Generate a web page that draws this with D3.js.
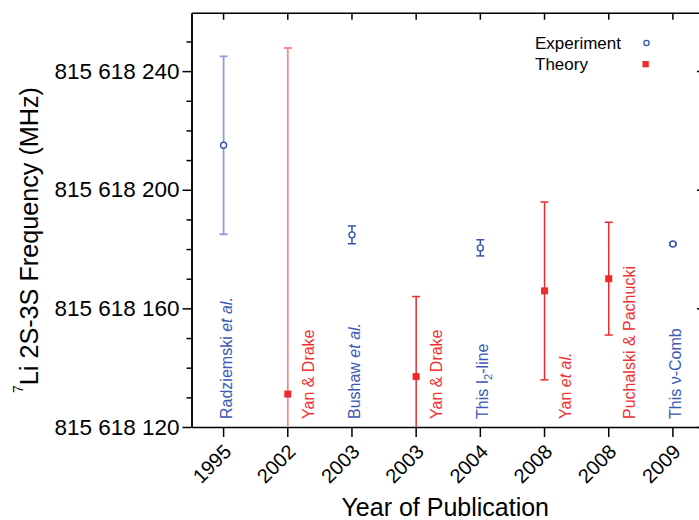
<!DOCTYPE html>
<html>
<head>
<meta charset="utf-8">
<script src="https://cdn.jsdelivr.net/npm/d3@7"></script>
<style>
  body { margin: 0; background: #fff; }
  svg { display: block; font-family: "Liberation Sans", Arial, sans-serif; }
</style>
</head>
<body>
<svg id="chart" width="699" height="520"></svg>
<script>
// ---- data ----
const years   = ["1995", "2002", "2003", "2003", "2004", "2008", "2008", "2009"];
const kinds   = ["Experiment", "Theory", "Experiment", "Theory", "Experiment", "Theory", "Theory", "Experiment"];
const sources = ["Radziemski et al.", "Yan & Drake", "Bushaw et al.", "Yan & Drake", "This I2-line", "Yan et al.", "Puchalski & Pachucki", "This ν-Comb"];
const freqs   = [815618215.0, 815618131.1, 815618184.8, 815618137.0, 815618180.4, 815618165.9, 815618170.0, 815618181.7];
const errs    = [30.0, 116.7, 3.0, 27.0, 2.7, 30.0, 19.0, 0.3];
const yTicksMajor = [815618120, 815618160, 815618200, 815618240];
const yTicksMinor = [815618130, 815618140, 815618150, 815618170, 815618180, 815618190, 815618210, 815618220, 815618230, 815618250];
const legendItems = ["Experiment", "Theory"];

// ---- style ----
const fadedIdx = [0, 1];
const col = { Experiment: "#3753b2", Theory: "#ee2a2a" };
const colFaded = { Experiment: "#8d9fd7", Theory: "#f68a8a" };
const labelCol = { Experiment: "#3d59b6", Theory: "#f03232" };

const svg = d3.select("#chart");
const pL = 191.5, pR = 705, pT = 12.7, pB = 427;

const idx = years.map((d, i) => i);
const x = d3.scaleBand().domain(idx).range([pL, pR]);
const y = d3.scaleLinear().domain([815618120, 815618259.7]).range([pB, pT]);
const cx = i => x(i) + x.bandwidth() / 2;

const loc = d3.formatLocale({ decimal: ".", thousands: " ", grouping: [3], currency: ["", ""] });
const fmt = loc.format(",d");

// clip
svg.append("clipPath").attr("id", "plotclip")
  .append("rect").attr("x", pL).attr("y", pT).attr("width", pR - pL).attr("height", pB - pT);

// ---- axes ----
const axisStyle = g => {
  g.selectAll("path.domain").attr("stroke", "#000").attr("stroke-width", 1.5);
  g.selectAll(".tick line").attr("stroke", "#000").attr("stroke-width", 1.5);
};

// left major
svg.append("g").attr("transform", `translate(${pL},0)`)
  .call(d3.axisLeft(y).tickValues(yTicksMajor).tickFormat(fmt).tickSize(9).tickSizeOuter(0).tickPadding(3))
  .call(axisStyle)
  .call(g => g.selectAll("text").attr("font-size", 22.5).attr("fill", "#000").attr("font-family", "Liberation Sans, Arial, sans-serif"));
// left minor
svg.append("g").attr("transform", `translate(${pL},0)`)
  .call(d3.axisLeft(y).tickValues(yTicksMinor).tickFormat("").tickSize(5).tickSizeOuter(0))
  .call(axisStyle);
// right (inward ticks)
svg.append("g").attr("transform", `translate(${pR},0)`)
  .call(d3.axisRight(y).tickValues(yTicksMajor).tickFormat("").tickSize(-8).tickSizeOuter(0))
  .call(axisStyle);
// bottom
svg.append("g").attr("transform", `translate(0,${pB})`)
  .call(d3.axisBottom(x).tickFormat(i => years[i]).tickSize(10).tickSizeOuter(0))
  .call(axisStyle)
  .call(g => g.selectAll("text")
    .attr("font-size", 20).attr("fill", "#000").attr("font-family", "Liberation Sans, Arial, sans-serif")
    .attr("x", 0).attr("y", 0).attr("dy", 0)
    .attr("text-anchor", "end")
    .attr("transform", "translate(9,26) rotate(-45)"));
// top (inward ticks)
svg.append("g").attr("transform", `translate(0,${pT})`)
  .call(d3.axisTop(x).tickFormat("").tickSize(-7).tickSizeOuter(0))
  .call(axisStyle);

// ---- axis titles ----
svg.append("text")
  .attr("x", (pL + pR) / 2 - 3).attr("y", 516)
  .attr("text-anchor", "middle").attr("font-size", 25).attr("fill", "#000")
  .text("Year of Publication");

const yt = svg.append("text")
  .attr("transform", "translate(38,393) rotate(-90)")
  .attr("font-size", 25.2).attr("fill", "#000");
yt.append("tspan").attr("font-size", 14).attr("dy", -15).text("7");
yt.append("tspan").attr("dy", 15).text("Li 2S-3S Frequency (MHz)");

// ---- error bars & markers ----
const plot = svg.append("g").attr("clip-path", "url(#plotclip)");
const capW = 8;
idx.forEach(i => {
  const k = kinds[i];
  const c = fadedIdx.includes(i) ? colFaded[k] : col[k];
  const g = plot.append("g").attr("stroke", c).attr("stroke-width", fadedIdx.includes(i) ? 1.8 : 1.5);
  const y0 = y(freqs[i] - errs[i]), y1 = y(freqs[i] + errs[i]);
  g.append("line").attr("x1", cx(i)).attr("x2", cx(i)).attr("y1", y0).attr("y2", y1);
  g.append("line").attr("x1", cx(i) - capW / 2).attr("x2", cx(i) + capW / 2).attr("y1", y0).attr("y2", y0);
  g.append("line").attr("x1", cx(i) - capW / 2).attr("x2", cx(i) + capW / 2).attr("y1", y1).attr("y2", y1);
});
idx.forEach(i => {
  if (kinds[i] === "Experiment") {
    plot.append("circle").attr("cx", cx(i)).attr("cy", y(freqs[i])).attr("r", 3)
      .attr("fill", "#fff").attr("stroke", col.Experiment).attr("stroke-width", 1.4);
  } else {
    plot.append("rect").attr("x", cx(i) - 3.5).attr("y", y(freqs[i]) - 3.5)
      .attr("width", 7).attr("height", 7).attr("fill", col.Theory);
  }
});

// ---- source labels ----
function addRich(t, s) {
  const m = s.match(/^(.*?)(et al\.)$/);
  if (m) {
    t.append("tspan").text(m[1]);
    t.append("tspan").attr("font-style", "italic").text(m[2]);
    return;
  }
  const n = s.match(/^(.*I)(2)(-.*)$/);
  if (n) {
    t.append("tspan").text(n[1]);
    t.append("tspan").attr("font-size", 11).attr("dy", 4).text(n[2]);
    t.append("tspan").attr("dy", -4).text(n[3]);
    return;
  }
  t.append("tspan").text(s);
}
idx.forEach(i => {
  const k = kinds[i];
  const off = k === "Theory" ? 26 : 8;
  const t = svg.append("text")
    .attr("transform", `translate(${cx(i) + off},419) rotate(-90)`)
    .attr("font-size", 16).attr("fill", labelCol[k]);
  addRich(t, sources[i]);
});

// ---- legend ----
const lg = svg.append("g");
legendItems.forEach((name, j) => {
  const ly = 49 + j * 20.5;
  lg.append("text").attr("x", 535).attr("y", ly).attr("font-size", 17).attr("fill", "#000").text(name);
  if (name === "Experiment") {
    lg.append("circle").attr("cx", 646.5).attr("cy", ly - 6).attr("r", 2.6)
      .attr("fill", "#fff").attr("stroke", col.Experiment).attr("stroke-width", 1.3);
  } else {
    lg.append("rect").attr("x", 642.5).attr("y", ly - 8.5).attr("width", 6.3).attr("height", 6.3).attr("fill", col.Theory);
  }
});
</script>
</body>
</html>
